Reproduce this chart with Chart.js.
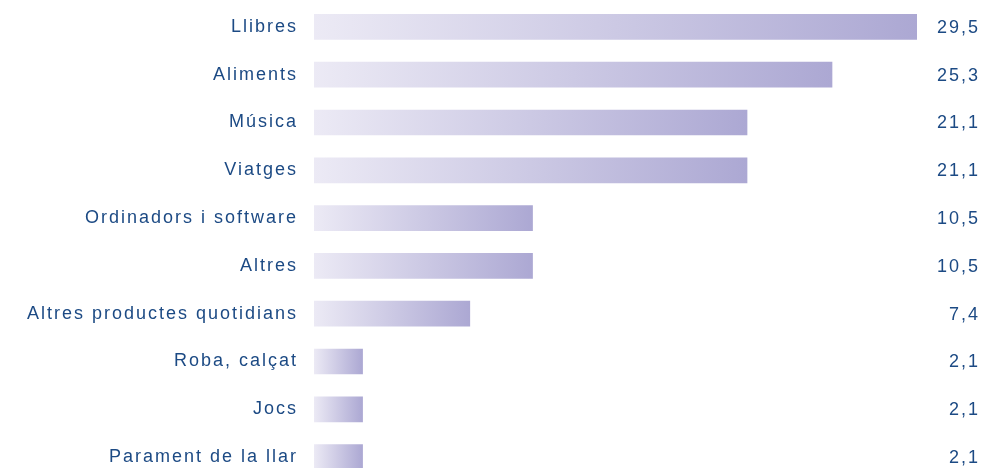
<!DOCTYPE html>
<html>
<head>
<meta charset="utf-8">
<script src="https://cdn.jsdelivr.net/npm/chart.js@4"></script>
<style>
  html, body { margin: 0; padding: 0; background: #ffffff; overflow: hidden; }
  #wrap { position: relative; width: 981px; height: 484px; }
</style>
</head>
<body>
<div id="wrap"><canvas id="chart"></canvas></div>
<script>
// Categories and values, top to bottom
const categories = [
    'Llibres',
    'Aliments',
    'Música',
    'Viatges',
    'Ordinadors i software',
    'Altres',
    'Altres productes quotidians',
    'Roba, calçat',
    'Jocs',
    'Parament de la llar'
];
const values = [29.5, 25.3, 21.1, 21.1, 10.5, 10.5, 7.4, 2.1, 2.1, 2.1];
const valueLabels = ['29,5', '25,3', '21,1', '21,1', '10,5', '10,5', '7,4', '2,1', '2,1', '2,1'];

const TEXT_COLOR = '#1c4a84';
const BAR_LIGHT = '#eceaf5';
const BAR_DARK = '#aca8d3';
const BAR_BASE = -0.3; // bars start a little left of zero, as in the original
const FONT = '"Liberation Sans", Arial, sans-serif';

// each bar gets its own left-to-right gradient
const barGradient = (context) => {
    const chart = context.chart;
    if (!chart.chartArea || !context.parsed) return BAR_DARK;
    const x = chart.scales.x;
    const x0 = x.getPixelForValue(BAR_BASE);
    const x1 = x.getPixelForValue(context.parsed.x);
    const g = chart.ctx.createLinearGradient(x0, 0, x1, 0);
    g.addColorStop(0, BAR_LIGHT);
    g.addColorStop(1, BAR_DARK);
    return g;
};

// tracked lettering like the printed original
const spacingPlugin = {
    id: 'spacing',
    beforeDraw(chart) { chart.ctx.letterSpacing = '2px'; },
    afterDraw(chart) { chart.ctx.letterSpacing = '0px'; }
};

// value column on the right
const valuePlugin = {
    id: 'values',
    afterDatasetsDraw(chart) {
        const ctx = chart.ctx;
        const meta = chart.getDatasetMeta(0);
        ctx.save();
        ctx.letterSpacing = '2px';
        ctx.font = '18px ' + FONT;
        ctx.fillStyle = TEXT_COLOR;
        ctx.textAlign = 'right';
        ctx.textBaseline = 'middle';
        meta.data.forEach((bar, i) => {
            ctx.fillText(valueLabels[i], 980, bar.y + 1);
        });
        ctx.restore();
    }
};

new Chart(document.getElementById('chart'), {
    type: 'bar',
    data: {
        labels: categories,
        datasets: [{
            data: values,
            base: BAR_BASE,
            backgroundColor: barGradient,
            borderWidth: 0,
            barThickness: 25
        }]
    },
    options: {
        indexAxis: 'y',
        responsive: true,
        maintainAspectRatio: false,
        animation: false,
        layout: { padding: { top: 3, bottom: 3, left: 0, right: 64 } },
        plugins: {
            legend: { display: false },
            tooltip: { enabled: false }
        },
        scales: {
            x: {
                display: false,
                min: BAR_BASE,
                max: 29.5
            },
            y: {
                grid: { display: false, drawTicks: false },
                border: { display: false },
                afterFit: (scale) => {
                    scale.width = 314;
                    scale.paddingTop = 0;
                    scale.paddingBottom = 0;
                },
                ticks: {
                    color: TEXT_COLOR,
                    padding: 16,
                    font: { family: FONT, size: 18 }
                }
            }
        }
    },
    plugins: [spacingPlugin, valuePlugin]
});
</script>
</body>
</html>
